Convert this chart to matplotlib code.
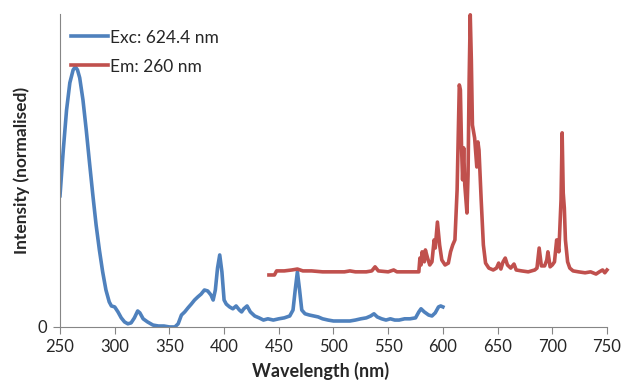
import matplotlib.pyplot as plt

plt.rcParams['font.family'] = ['Lato', 'DejaVu Sans']

# excitation spectrum (em. 624.4 nm)
exc_wl = [250, 253, 256, 259, 262, 264, 266, 268, 271, 274, 277, 280, 283, 286, 289, 292, 295, 297,
          300, 303, 306, 309, 312, 315, 318, 321, 323, 326, 330, 335, 340, 345, 350, 355, 358, 361,
          364, 367, 370, 373, 376, 379, 382, 385, 388, 390, 392, 394, 396, 398, 400, 402, 405, 408,
          411, 414, 416, 418, 421, 424, 428, 432, 436, 440, 445, 450, 455, 460, 463, 465, 467, 469,
          471, 474, 478, 482, 486, 490, 495, 500, 505, 510, 515, 520, 525, 530, 534, 537, 540, 544,
          548, 552, 556, 560, 565, 570, 575, 578, 580, 583, 587, 590, 593, 596, 598, 600]
exc_int = [0.419, 0.565, 0.693, 0.780, 0.821, 0.831, 0.821, 0.796, 0.725, 0.629, 0.524, 0.422,
           0.326, 0.246, 0.176, 0.118, 0.080, 0.067, 0.064, 0.048, 0.029, 0.016, 0.010, 0.013,
           0.029, 0.051, 0.045, 0.026, 0.016, 0.006, 0.003, 0.003, 0.0, 0.0, 0.010, 0.038,
           0.048, 0.061, 0.073, 0.086, 0.096, 0.105, 0.118, 0.115, 0.102, 0.086, 0.118, 0.188,
           0.230, 0.176, 0.086, 0.073, 0.064, 0.058, 0.067, 0.054, 0.048, 0.058, 0.067, 0.048,
           0.035, 0.029, 0.022, 0.026, 0.022, 0.026, 0.029, 0.035, 0.054, 0.118, 0.176, 0.118,
           0.054, 0.042, 0.038, 0.035, 0.032, 0.026, 0.022, 0.019, 0.019, 0.019, 0.019, 0.022,
           0.026, 0.029, 0.035, 0.042, 0.032, 0.026, 0.022, 0.026, 0.022, 0.022, 0.026, 0.026,
           0.029, 0.048, 0.058, 0.048, 0.038, 0.035, 0.045, 0.064, 0.067, 0.064]

# emission spectrum (exc. 260 nm)
em_wl = [441, 446, 448, 455, 462, 467, 472, 480, 490, 500, 510, 515, 520, 530, 535, 538, 541, 550,
         555, 558, 570, 578, 579, 580, 581, 583, 584, 586, 588, 590, 592, 593, 595, 597, 599, 602,
         605, 607, 609, 611, 613, 615, 616, 617, 618, 619, 620, 622, 623, 624, 625, 626, 627, 629,
         631, 632, 633, 635, 637, 639, 642, 646, 649, 651, 653, 655, 657, 659, 662, 665, 667, 672,
         678, 684, 686, 688, 690, 693, 695, 696, 698, 700, 702, 704, 706, 708, 709, 710, 711, 712,
         714, 716, 719, 724, 730, 735, 740, 743, 746, 748, 750]
em_int = [0.166, 0.166, 0.179, 0.179, 0.182, 0.185, 0.179, 0.179, 0.176, 0.176, 0.176, 0.179,
          0.176, 0.176, 0.179, 0.192, 0.179, 0.176, 0.182, 0.176, 0.176, 0.176, 0.220, 0.198,
          0.240, 0.208, 0.246, 0.220, 0.198, 0.208, 0.278, 0.252, 0.335, 0.262, 0.214, 0.198,
          0.204, 0.240, 0.262, 0.278, 0.438, 0.773, 0.757, 0.581, 0.470, 0.572, 0.454, 0.364,
          0.486, 0.789, 0.997, 0.853, 0.645, 0.604, 0.511, 0.591, 0.565, 0.406, 0.262, 0.204,
          0.188, 0.182, 0.188, 0.204, 0.185, 0.208, 0.220, 0.198, 0.188, 0.201, 0.182, 0.179,
          0.176, 0.182, 0.188, 0.252, 0.195, 0.195, 0.214, 0.240, 0.192, 0.198, 0.208, 0.278,
          0.240, 0.406, 0.620, 0.428, 0.380, 0.278, 0.208, 0.188, 0.179, 0.176, 0.173, 0.176,
          0.169, 0.176, 0.182, 0.173, 0.182]

xticks = [250, 300, 350, 400, 450, 500, 550, 600, 650, 700, 750]

fig = plt.figure(figsize=(6.23, 3.86), dpi=100)
ax = fig.add_axes([0.0963, 0.153, 0.878, 0.811])

ax.plot(exc_wl, exc_int, color='#4F81BD', lw=2.6, label='Exc: 624.4 nm', solid_joinstyle='round')
ax.plot(em_wl, em_int, color='#C0504D', lw=2.6, label='Em: 260 nm', solid_joinstyle='round',
        clip_on=False)

ax.set_xlim(250, 750)
ax.set_ylim(0, 1.0)
ax.set_xticks(xticks)
ax.set_yticks([0])

for s in ['top', 'right']:
    ax.spines[s].set_visible(False)
for s in ['left', 'bottom']:
    ax.spines[s].set_color('#868686')
    ax.spines[s].set_linewidth(0.8)
ax.tick_params(axis='both', direction='out', length=5, width=0.8, color='#868686',
               labelsize=12, labelcolor='#262626', pad=4)

ax.set_xlabel('Wavelength (nm)', fontsize=13, fontweight='bold', color='#262626')
ax.xaxis.set_label_coords(0.477, -0.113)
ax.set_ylabel('Intensity (normalised)', fontsize=12.5, fontweight='bold', color='#262626')
ax.yaxis.set_label_coords(-0.054, 0.5)

ax.legend(loc='upper left', bbox_to_anchor=(0.021, 0.95), frameon=False, fontsize=12.5,
          handlelength=2.1, handletextpad=0.12, labelspacing=0.75, borderpad=0, borderaxespad=0)
for t in ax.get_legend().get_texts():
    t.set_color('#262626')

fig.savefig('out.png', dpi=100)
